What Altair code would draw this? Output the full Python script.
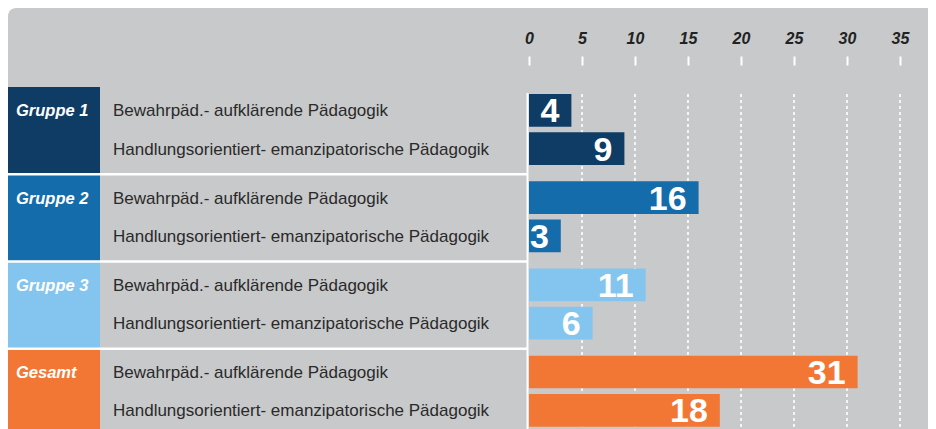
import altair as alt
import pandas as pd

groups = ["Gruppe 1", "Gruppe 2", "Gruppe 3", "Gesamt"]
categories = ["Bewahrpäd.- aufklärende Pädagogik",
              "Handlungsorientiert- emanzipatorische Pädagogik"]
values_bewahr = [4, 16, 11, 31]
values_handlung = [9, 3, 6, 18]
group_colors = ["#0E3C64", "#156CAB", "#83C5EE", "#F27735"]
tick_values = [0, 5, 10, 15, 20, 25, 30, 35]

rows = []
for g, v1, v2 in zip(groups, values_bewahr, values_handlung):
    rows.append({"group": g, "category": categories[0], "value": v1})
    rows.append({"group": g, "category": categories[1], "value": v2})
df = pd.DataFrame(rows)
df_groups = pd.DataFrame({"group": groups})
df_sep = pd.DataFrame({"group": groups[1:]})
df_ticks = pd.DataFrame({"tick": [t for t in tick_values if t > 0]})
df_one = pd.DataFrame({"z": [0]})

FONT = "Liberation Sans"
GREY = "#C8C9CB"

x_scale = alt.Scale(domain=[0, 35], range=[521, 892])
y_scale = alt.Scale(domain=groups, range=[79.1, 427.9], paddingInner=0, paddingOuter=0)
yoff_scale = alt.Scale(domain=categories, paddingInner=0.146, paddingOuter=0.21, align=0.43)
color_scale = alt.Scale(domain=groups, range=group_colors)

Y = alt.Y("group:N", scale=y_scale, axis=None)
YO = alt.YOffset("category:N", scale=yoff_scale)

panel = alt.Chart(df_one).mark_rect(color=GREY, cornerRadiusTopLeft=8).encode(
    x=alt.value(0), x2=alt.value(920), y=alt.value(0), y2=alt.value(440))

grid = alt.Chart(df_ticks).mark_rule(color="white", strokeWidth=1.6, strokeDash=[3, 3]).encode(
    x=alt.X("tick:Q", scale=x_scale),
    y=alt.value(86), y2=alt.value(440))

boxes = alt.Chart(df_groups).mark_rect().encode(
    y=Y,
    x=alt.value(0), x2=alt.value(92),
    color=alt.Color("group:N", scale=color_scale, legend=None))

seps = alt.Chart(df_sep).mark_rule(color="white", strokeWidth=2.5).encode(
    y=alt.Y("group:N", scale=y_scale, axis=None, bandPosition=0),
    x=alt.value(0), x2=alt.value(520))

zero = alt.Chart(df_one).mark_rule(color="white", strokeWidth=2).encode(
    x=alt.value(519.5), y=alt.value(85), y2=alt.value(440))

bars = alt.Chart(df).mark_bar().encode(
    x=alt.X("value:Q", scale=x_scale, title=None,
            axis=alt.Axis(orient="top", values=tick_values, offset=-57, domain=False,
                          grid=False, tickColor="white", tickWidth=2, tickSize=9,
                          labelFont=FONT, labelFontStyle="italic", labelFontWeight="bold",
                          labelFontSize=16, labelColor="#222222", labelPadding=13,
                          labelBaseline="alphabetic", labelFlush=False, title=None,
                          zindex=1)),
    y=Y, yOffset=YO,
    color=alt.Color("group:N", scale=color_scale, legend=None))

vals = alt.Chart(df).mark_text(align="right", baseline="alphabetic", dx=-12, dy=12,
                               font=FONT, fontWeight="bold", fontSize=34, color="white").encode(
    x=alt.X("value:Q", scale=x_scale), y=Y, yOffset=YO, text="value:Q")

glabels = alt.Chart(df[df["category"] == categories[0]]).mark_text(
    align="left", baseline="alphabetic", dy=6, font=FONT, fontWeight="bold",
    fontStyle="italic", fontSize=16.5, color="white").encode(
    x=alt.value(8), y=Y, yOffset=YO, text="group:N")

clabels = alt.Chart(df).mark_text(
    align="left", baseline="alphabetic", dy=6, font=FONT, fontSize=17,
    color="#2A2A2A").encode(
    x=alt.value(105), y=Y, yOffset=YO, text="category:N")

chart = alt.layer(panel, grid, boxes, seps, zero, bars, vals, glabels, clabels).properties(
    width=920, height=425, autosize=alt.AutoSizeParams(type="none"), padding=0,
    background="white"
).configure_view(stroke=None)

chart.save("out.html", embed_options={"renderer": "svg", "actions": False})
